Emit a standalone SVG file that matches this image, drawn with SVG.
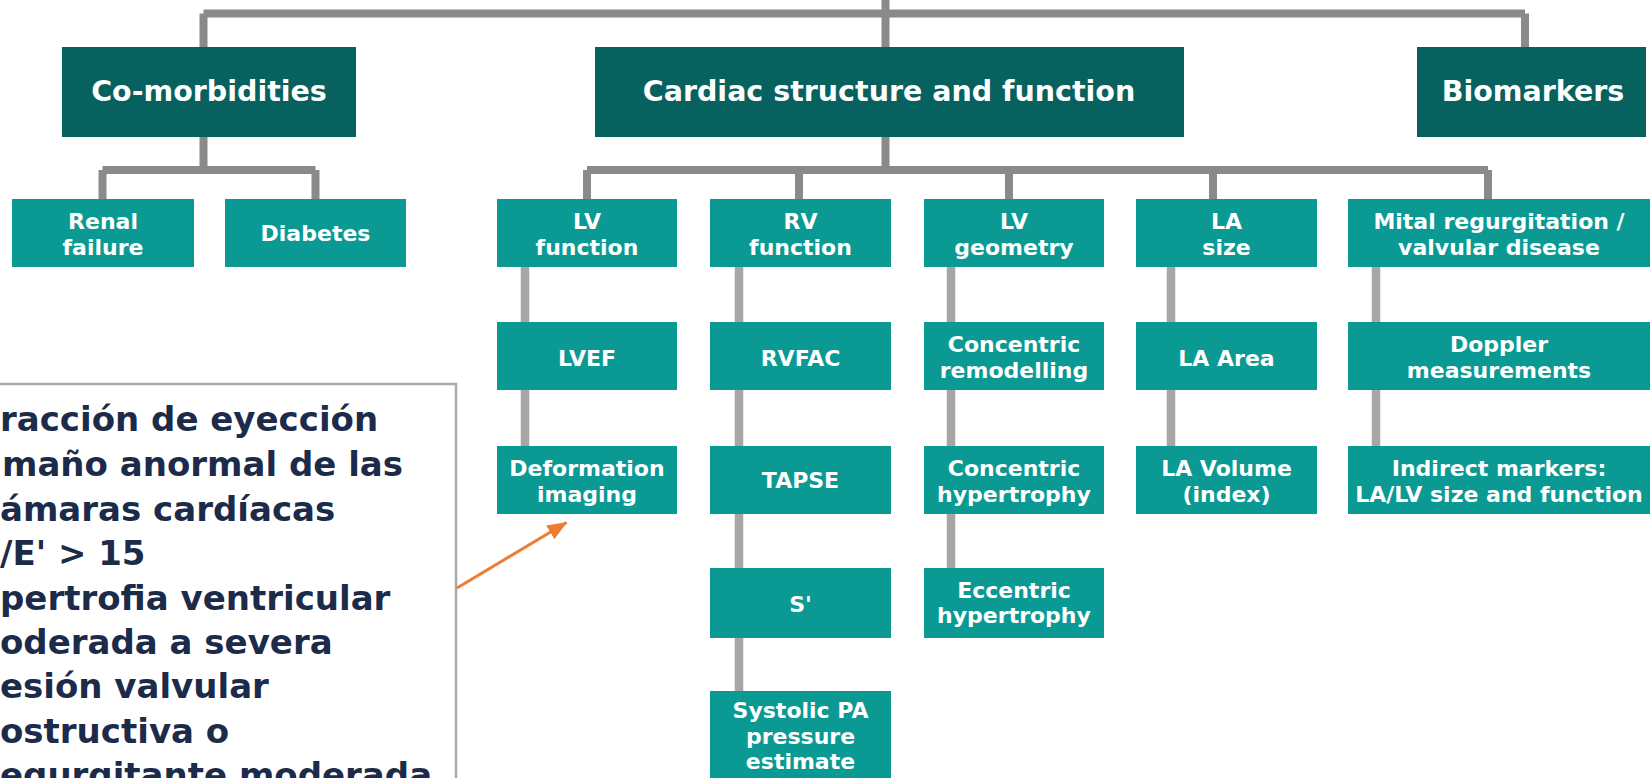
<svg xmlns="http://www.w3.org/2000/svg" width="1650" height="778" viewBox="0 0 1650 778">
  <style>
    .top { fill: #07625f; }
    .box { fill: #0a9a93; }
    .t { font-family: "DejaVu Sans", "Liberation Sans", sans-serif; font-weight: bold; fill: #ffffff; text-anchor: middle; }
    .h { font-size: 28.5px; }
    .s { font-size: 22px; }
    .c1 { fill: none; stroke: #8a8a8a; stroke-width: 8; }
    .c2 { fill: none; stroke: #a6a6a6; stroke-width: 8.5; }
    .note { font-family: "DejaVu Sans", "Liberation Sans", sans-serif; font-weight: bold; font-size: 34px; fill: #1b2b49; }
  </style>
  <defs>
    <marker id="arrowHead" viewBox="0 0 20 16" refX="19" refY="8" markerWidth="20" markerHeight="16" markerUnits="userSpaceOnUse" orient="auto">
      <path d="M0,0 L20,8 L0,16 Z" fill="#ed7d31"/>
    </marker>
  </defs>

  <rect x="0" y="0" width="1650" height="778" fill="#ffffff"/>

  <!-- tree connectors -->
  <g id="connectors">
    <path class="c1" d="M885.5,0 V47 M203.5,13.5 H1525 M203.5,13.5 V47 M1525,13.5 V47"/>
    <path class="c1" d="M203.5,137 V170 M102.5,170 H315.5 M102.5,170 V199 M315.5,170 V199"/>
    <path class="c1" d="M885.5,137 V170 M587,170 H1488 M587,170 V199 M799,170 V199 M1009,170 V199 M1213,170 V199 M1488,170 V199"/>
    <path class="c2" d="M525,267 V322 M525,390 V446"/>
    <path class="c2" d="M739,267 V322 M739,390 V446 M739,514 V568 M739,638 V691"/>
    <path class="c2" d="M951,267 V322 M951,390 V446 M951,514 V568"/>
    <path class="c2" d="M1171,267 V322 M1171,390 V446"/>
    <path class="c2" d="M1376,267 V322 M1376,390 V446"/>
  </g>

  <!-- first level -->
  <g id="comorbidities">
    <rect class="top" x="62" y="47" width="294" height="90"/>
    <text class="t h" x="209" y="101" font-size="27.6">Co-morbidities</text>
  </g>
  <g id="cardiac">
    <rect class="top" x="595" y="47" width="589" height="90"/>
    <text class="t h" x="889" y="101" font-size="29.2">Cardiac structure and function</text>
  </g>
  <g id="biomarkers">
    <rect class="top" x="1417" y="47" width="229" height="90"/>
    <text class="t h" x="1533" y="101">Biomarkers</text>
  </g>

  <!-- co-morbidity children -->
  <g id="renal">
    <rect class="box" x="12" y="199" width="182" height="68"/>
    <text class="t s" x="103" y="229">Renal</text>
    <text class="t s" x="103" y="255">failure</text>
  </g>
  <g id="diabetes">
    <rect class="box" x="225" y="199" width="181" height="68"/>
    <text class="t s" x="315.5" y="241">Diabetes</text>
  </g>

  <!-- cardiac structure columns -->
  <g id="lv-function">
    <rect class="box" x="497" y="199" width="180" height="68"/>
    <text class="t s" x="587" y="229">LV</text>
    <text class="t s" x="587" y="255">function</text>
  </g>
  <g id="rv-function">
    <rect class="box" x="710" y="199" width="181" height="68"/>
    <text class="t s" x="800.5" y="229">RV</text>
    <text class="t s" x="800.5" y="255">function</text>
  </g>
  <g id="lv-geometry">
    <rect class="box" x="924" y="199" width="180" height="68"/>
    <text class="t s" x="1014" y="229">LV</text>
    <text class="t s" x="1014" y="255">geometry</text>
  </g>
  <g id="la-size">
    <rect class="box" x="1136" y="199" width="181" height="68"/>
    <text class="t s" x="1226.5" y="229">LA</text>
    <text class="t s" x="1226.5" y="255">size</text>
  </g>
  <g id="mitral">
    <rect class="box" x="1348" y="199" width="302" height="68"/>
    <text class="t s" x="1499" y="229">Mital regurgitation /</text>
    <text class="t s" x="1499" y="255">valvular disease</text>
  </g>

  <!-- second row -->
  <g id="lvef">
    <rect class="box" x="497" y="322" width="180" height="68"/>
    <text class="t s" x="587" y="366">LVEF</text>
  </g>
  <g id="rvfac">
    <rect class="box" x="710" y="322" width="181" height="68"/>
    <text class="t s" x="800.5" y="366">RVFAC</text>
  </g>
  <g id="concentric-remodelling">
    <rect class="box" x="924" y="322" width="180" height="68"/>
    <text class="t s" x="1014" y="352">Concentric</text>
    <text class="t s" x="1014" y="378">remodelling</text>
  </g>
  <g id="la-area">
    <rect class="box" x="1136" y="322" width="181" height="68"/>
    <text class="t s" x="1226.5" y="366">LA Area</text>
  </g>
  <g id="doppler">
    <rect class="box" x="1348" y="322" width="302" height="68"/>
    <text class="t s" x="1499" y="352">Doppler</text>
    <text class="t s" x="1499" y="378">measurements</text>
  </g>

  <!-- third row -->
  <g id="deformation">
    <rect class="box" x="497" y="446" width="180" height="68"/>
    <text class="t s" x="587" y="476">Deformation</text>
    <text class="t s" x="587" y="502">imaging</text>
  </g>
  <g id="tapse">
    <rect class="box" x="710" y="446" width="181" height="68"/>
    <text class="t s" x="800.5" y="488">TAPSE</text>
  </g>
  <g id="concentric-hypertrophy">
    <rect class="box" x="924" y="446" width="180" height="68"/>
    <text class="t s" x="1014" y="476">Concentric</text>
    <text class="t s" x="1014" y="502">hypertrophy</text>
  </g>
  <g id="la-volume">
    <rect class="box" x="1136" y="446" width="181" height="68"/>
    <text class="t s" x="1226.5" y="476">LA Volume</text>
    <text class="t s" x="1226.5" y="502">(index)</text>
  </g>
  <g id="indirect">
    <rect class="box" x="1348" y="446" width="302" height="68"/>
    <text class="t s" x="1499" y="476" font-size="20.8">Indirect markers:</text>
    <text class="t s" x="1499" y="502" font-size="20.8">LA/LV size and function</text>
  </g>

  <!-- fourth row -->
  <g id="s-prime">
    <rect class="box" x="710" y="568" width="181" height="70"/>
    <text class="t s" x="800.5" y="612">S'</text>
  </g>
  <g id="eccentric">
    <rect class="box" x="924" y="568" width="180" height="70"/>
    <text class="t s" x="1014" y="598">Eccentric</text>
    <text class="t s" x="1014" y="623">hypertrophy</text>
  </g>

  <!-- fifth row -->
  <g id="systolic-pa">
    <rect class="box" x="710" y="691" width="181" height="100"/>
    <text class="t s" x="800.5" y="718">Systolic PA</text>
    <text class="t s" x="800.5" y="744">pressure</text>
    <text class="t s" x="800.5" y="769">estimate</text>
  </g>

  <!-- criteria panel -->
  <g id="criteria">
    <rect x="-10" y="384" width="466" height="420" fill="#ffffff" stroke="#a9a9a9" stroke-width="2.5"/>
    <text class="note" x="0" y="431">racción de eyección</text>
    <text class="note" x="2" y="476">maño anormal de las</text>
    <text class="note" x="0" y="521">ámaras cardíacas</text>
    <text class="note" x="0" y="565">/E' &gt; 15</text>
    <text class="note" x="0" y="610">pertrofia ventricular</text>
    <text class="note" x="0" y="654">oderada a severa</text>
    <text class="note" x="0" y="698">esión valvular</text>
    <text class="note" x="0" y="743">ostructiva o</text>
    <text class="note" x="0" y="787">egurgitante moderada</text>
  </g>

  <!-- pointer -->
  <g id="pointer">
    <line x1="457" y1="588" x2="566.5" y2="522.5" stroke="#ed7d31" stroke-width="3" marker-end="url(#arrowHead)"/>
  </g>
</svg>
